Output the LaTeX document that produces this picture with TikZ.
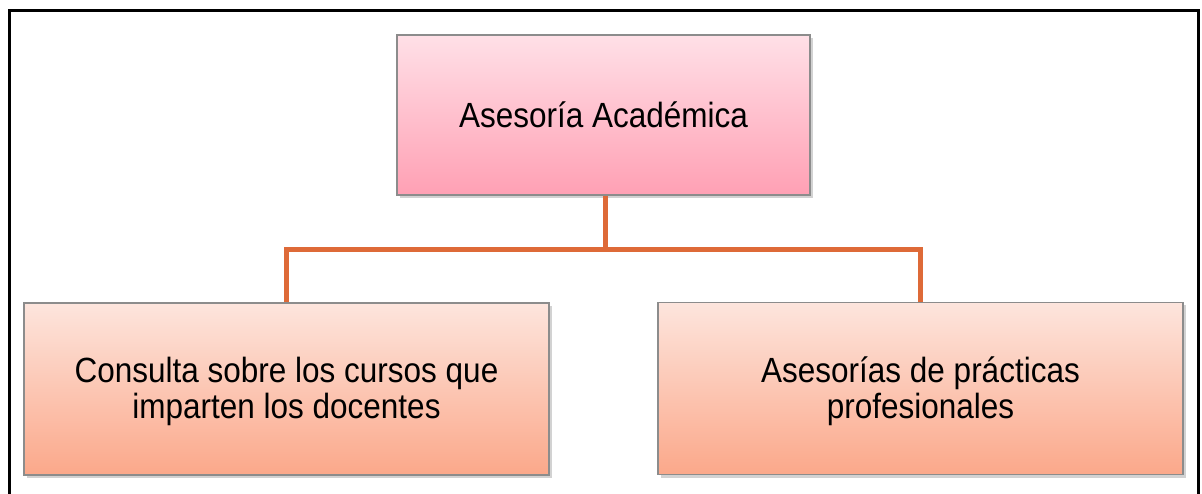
\documentclass[tikz,border=0pt]{standalone}
\usepackage{fontspec}
\setmainfont{Liberation Sans}
\newfontfamily\boxfont[FakeStretch=0.9]{Liberation Sans}
\usetikzlibrary{shadows}
\definecolor{pinktop}{RGB}{255,224,231}
\definecolor{pinkbot}{RGB}{255,160,180}
\definecolor{salmtop}{RGB}{253,229,221}
\definecolor{salmbot}{RGB}{251,168,138}
\definecolor{edgegray}{RGB}{140,140,140}
\definecolor{linkorange}{RGB}{222,106,56}
\newcommand{\lowtext}[1]{\raisebox{-4pt}[\height][\depth]{\begin{tabular}{@{}c@{}}#1\end{tabular}}}
\tikzset{
  boxbase/.style={draw=edgegray, line width=1.5pt, align=center, inner sep=0pt,
    font=\boxfont\fontsize{35}{35.5}\selectfont,
    drop shadow={shadow xshift=3pt, shadow yshift=-3pt, opacity=0.35, fill=gray}},
  topbox/.style={boxbase, top color=pinktop, bottom color=pinkbot,
    minimum width=413pt, minimum height=160pt},
  childbox/.style={boxbase, top color=salmtop, bottom color=salmbot,
    minimum width=525pt, minimum height=172pt},
  link/.style={draw=linkorange, line width=5pt},
  frameline/.style={draw=black, line width=3pt}
}
\begin{document}
\begin{tikzpicture}[x=1pt, y=-1pt]
\useasboundingbox (0,0) rectangle (1202,494);
\clip (0,0) rectangle (1202,494);
\fill[white] (0,0) rectangle (1202,494);
\draw[frameline] (9,520) -- (9,11) -- (1198,11) -- (1198,520);
\node[topbox] (top) at (603.5,115) {Asesoría Académica};
\node[childbox] (left) at (286.5,389) {\lowtext{Consulta sobre los cursos que\\imparten los docentes}};
\node[childbox] (right) at (920.5,388.5) {\lowtext{Asesorías de prácticas\\profesionales}};
\coordinate (j) at (605,250);
\draw[link] (top.south -| j) -- (j) -| (left.north);
\draw[link] (j) -| (right.north);
\end{tikzpicture}
\end{document}
